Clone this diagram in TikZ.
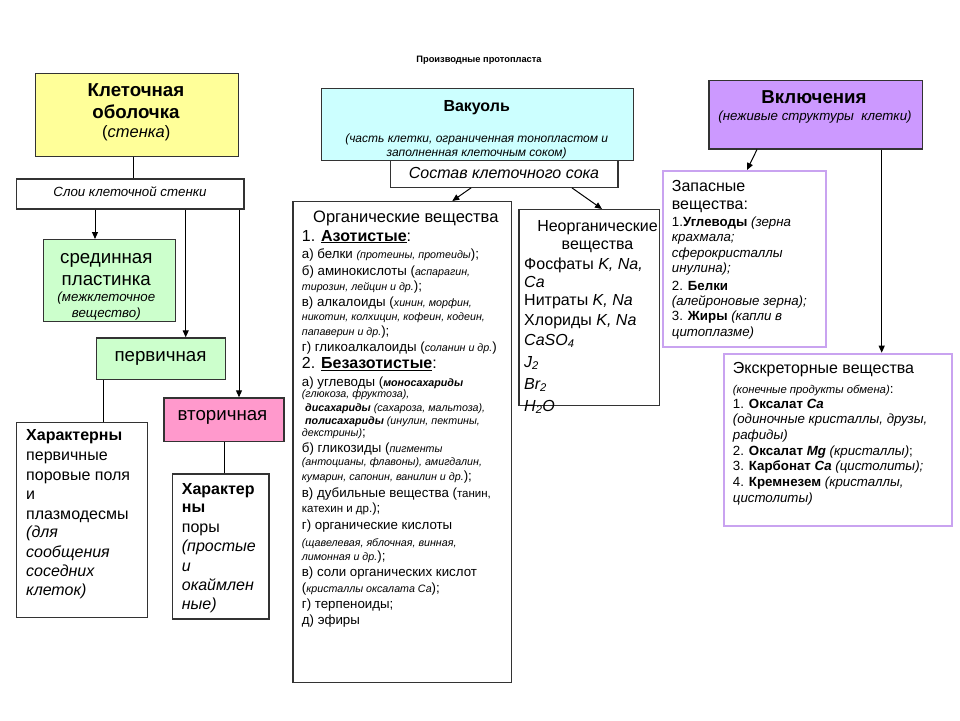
\documentclass[tikz,border=0pt]{standalone}
\usepackage{fontspec}
\setmainfont{Liberation Sans}
\usetikzlibrary{arrows.meta}
\definecolor{yel}{HTML}{FFFF99}
\definecolor{grn}{HTML}{CCFFCC}
\definecolor{pnk}{HTML}{FF99CC}
\definecolor{cya}{HTML}{CCFFFF}
\definecolor{pur}{HTML}{CC99FF}
\definecolor{purline}{HTML}{C9A3F0}
\definecolor{linegray}{HTML}{333333}
\newcommand\fs[1]{\fontsize{#1}{#1}\selectfont}
\newcommand\smi[1]{{\fontsize{10.7}{11}\selectfont\itshape #1}}
\newcommand\sm[1]{{\fontsize{11.5}{12}\selectfont #1}}
\newcommand\tl[4]{\node[tx] (#1) at (#2,#3) {#4};}
\newcommand\tc[4]{\node[txc] (#1) at (#2,#3) {#4};}
\begin{document}
\begin{tikzpicture}[x=1pt,y=-1pt,
  box/.style={draw=linegray, line width=1.2pt, inner sep=0, anchor=north west},
  pbox/.style={draw=purline, line width=2pt, fill=white, inner sep=0, anchor=north west},
  tx/.style={inner sep=0, anchor=base west, font=\fs{13.3}},
  txc/.style={inner sep=0, anchor=base, font=\fs{16}},
  ln/.style={draw=black, line width=1pt},
  arr/.style={ln, -{Triangle[length=7pt,width=6pt]}}]
\useasboundingbox[fill=white] (0,0) rectangle (960,720);

% title
\tc{title}{479}{62.7}{\fs{9.3}\bfseries Производные протопласта}

% ---------- left column ----------
\node[box, fill=yel, minimum width=202.7pt, minimum height=83pt] (obol) at (35,72.7) {};
\tc{obolA}{136}{96}{\fs{18.7}\bfseries Клеточная}
\tc{obolB}{136}{118.3}{\fs{18.7}\bfseries оболочка}
\tc{obolC}{136.3}{137.7}{\fs{16.5}(\textit{стенка})}

\node[box, fill=white, minimum width=227.6pt, minimum height=30pt] (sloi) at (15.7,178.3) {};
\tc{sloiT}{130}{196.7}{\fs{13.3}\itshape Слои клеточной стенки}

\node[box, fill=grn, minimum width=132.3pt, minimum height=81.7pt] (sred) at (42.7,239) {};
\tc{sredA}{106.3}{263.3}{\fs{18.7}срединная}
\tc{sredB}{106.3}{285}{\fs{18.7}пластинка}
\tc{sredC}{106.3}{301.7}{\fs{13.3}\itshape (межклеточное}
\tc{sredD}{106.3}{317.3}{\fs{13.3}\itshape вещество)}

\node[box, fill=grn, minimum width=129.3pt, minimum height=41.7pt] (perv) at (95.7,337.3) {};
\tc{pervT}{160.5}{361.7}{\fs{18.7}первичная}

\node[box, fill=pnk, minimum width=120pt, minimum height=43.4pt] (vtor) at (163.3,397.3) {};
\tc{vtorT}{222.5}{420.7}{\fs{18.7}вторичная}

\node[box, fill=white, minimum width=130.7pt, minimum height=195pt] (har1) at (16,421.7) {};
\tl{hA1}{26}{440.7}{\fs{16}\bfseries Характерны}
\tl{hA2}{26}{460.7}{\fs{16}первичные}
\tl{hA3}{26}{480}{\fs{16}поровые поля}
\tl{hA4}{26}{499.3}{\fs{16}и}
\tl{hA5}{26}{519}{\fs{16}плазмодесмы}
\tl{hA6}{26}{537.7}{\fs{16}\itshape (для}
\tl{hA7}{26}{557.3}{\fs{16}\itshape сообщения}
\tl{hA8}{26}{576.7}{\fs{16}\itshape соседних}
\tl{hA9}{26}{595.7}{\fs{16}\itshape клеток)}

\node[box, fill=white, minimum width=96.6pt, minimum height=145pt] (har2) at (171.7,473.3) {};
\tl{hB1}{181.7}{494}{\fs{16}\bfseries Характер}
\tl{hB2}{181.7}{512.7}{\fs{16}\bfseries ны}
\tl{hB3}{181.7}{532.7}{\fs{16}поры}
\tl{hB4}{181.7}{551.7}{\fs{16}\itshape (простые}
\tl{hB5}{181.7}{571.7}{\fs{16}\itshape и}
\tl{hB6}{181.7}{590.7}{\fs{16}\itshape окаймлен}
\tl{hB7}{181.7}{609.3}{\fs{16}\itshape ные)}

% left connectors
\coordinate (c0) at ([xshift=117.6pt]sloi.north west);
\draw[ln] (c0 |- obol.south) -- (c0);
\coordinate (c1) at ([xshift=52.3pt]sred.north west);
\draw[arr] (c1 |- sloi.south) -- (c1);
\coordinate (c2) at ([xshift=90pt]perv.north west);
\draw[arr] (c2 |- sloi.south) -- (c2);
\coordinate (c3) at ([xshift=75.7pt]vtor.north west);
\draw[arr] (c3 |- sloi.south) -- (c3);
\coordinate (c4) at ([xshift=87.3pt]har1.north west);
\draw[ln] (c4 |- perv.south) -- (c4);
\coordinate (c5) at ([xshift=52.3pt]har2.north west);
\draw[ln] (c5 |- vtor.south) -- (c5);

% ---------- middle column ----------
\node[box, fill=cya, minimum width=312.3pt, minimum height=72.3pt] (vak) at (320.7,87.7) {};
\tc{vakA}{476.7}{111.7}{\fs{16}\bfseries Вакуоль}
\tc{vakB}{476.7}{142.7}{\fs{12}\itshape (часть клетки, ограниченная тонопластом и}
\tc{vakC}{476.7}{156}{\fs{12}\itshape заполненная клеточным соком)}

\node[box, fill=white, minimum width=227.3pt, minimum height=26.7pt] (sost) at (390,160) {};
\tc{sostT}{504}{178.3}{\fs{16}\itshape Состав клеточного сока}

\node[box, fill=white, minimum width=218.7pt, minimum height=480.7pt] (org) at (292.3,201) {};
\tl{o1}{313}{222}{\fs{16.5}Органические вещества}
\tl{o2}{301.7}{241}{\fs{16}1. \textbf{\underline{Азотистые}}:}
\tl{o3}{301.7}{258.3}{а) белки \smi{(протеины, протеиды});}
\tl{o4}{301.7}{275}{б) аминокислоты (\smi{аспарагин,}}
\tl{o5}{301.7}{290}{\smi{тирозин, лейцин и др.});}
\tl{o6}{301.7}{306.7}{в) алкалоиды (\smi{хинин, морфин,}}
\tl{o7}{301.7}{320}{\smi{никотин, колхицин, кофеин, кодеин,}}
\tl{o8}{301.7}{335}{\smi{папаверин и др.});}
\tl{o9}{301.7}{351}{г) гликоалкалоиды (\smi{соланин и др.})}
\tl{o10}{301.7}{368.3}{\fs{16}2. \textbf{\underline{Безазотистые}}:}
\tl{o11}{301.7}{386}{а) углеводы (\smi{\bfseries моносахариды}}
\tl{o12}{301.7}{397.3}{\smi{(глюкоза, фруктоза),}}
\tl{o13}{305}{411.7}{\smi{\bfseries дисахариды\mdseries{} (сахароза, мальтоза),}}
\tl{o14}{305}{424}{\smi{\bfseries полисахариды\mdseries{} (инулин, пектины,}}
\tl{o15}{301.7}{436}{\smi{декстрины)};}
\tl{o16}{301.7}{452.7}{б) гликозиды (\smi{пигменты}}
\tl{o17}{301.7}{465.7}{\smi{(антоцианы, флавоны), амигдалин,}}
\tl{o18}{301.7}{480}{\smi{кумарин, сапонин, ванилин и др.});}
\tl{o19}{301.7}{497.3}{в) дубильные вещества (\sm{танин,}}
\tl{o20}{301.7}{512.7}{\sm{катехин и др.});}
\tl{o21}{301.7}{529}{г) органические кислоты}
\tl{o22}{301.7}{546}{\smi{(щавелевая, яблочная, винная,}}
\tl{o23}{301.7}{560}{\smi{лимонная и др.});}
\tl{o24}{301.7}{576.7}{в) соли органических кислот}
\tl{o25}{301.7}{592.7}{(\smi{кристаллы оксалата Са});}
\tl{o26}{301.7}{608.3}{г) терпеноиды;}
\tl{o27}{301.7}{624}{д) эфиры}

\node[box, fill=white, minimum width=140.7pt, minimum height=196pt] (neorg) at (518.3,209) {};
\tc{n1}{597.5}{231}{Неорганические}
\tc{n2}{597.5}{249}{вещества}
\tl{n3}{524}{269.5}{\fs{16}Фосфаты \textit{K, Na,}}
\tl{n4}{524}{287.5}{\fs{16}\itshape Ca}
\tl{n5}{524}{305}{\fs{16}Нитраты \textit{K, Na}}
\tl{n6}{524}{325}{\fs{16}Хлориды \textit{K, Na}}
\tl{n7}{524}{345}{\fs{16}\itshape CaSO\textsubscript{4}}
\tl{n8}{524}{367}{\fs{16}\itshape J\textsubscript{2}}
\tl{n9}{524}{389}{\fs{16}\itshape Br\textsubscript{2}}
\tl{n10}{524}{411}{\fs{16}\itshape H\textsubscript{2}O}

\draw[arr] ([xshift=81pt]sost.south west) -- ([xshift=160pt]org.north west);
\draw[arr] ([xshift=182pt]sost.south west) -- ([xshift=83.7pt]neorg.north west);

% ---------- right column ----------
\node[box, fill=pur, minimum width=213.4pt, minimum height=68.3pt] (vkl) at (708.3,80) {};
\tc{vklA}{814}{103.3}{\fs{18.7}\bfseries Включения}
\tc{vklB}{815}{120}{\fs{13.3}\itshape (неживые структуры\ \ клетки)}

\node[pbox, minimum width=163.3pt, minimum height=176pt] (zap) at (661.7,170) {};
\tl{z1}{671.7}{191.7}{\fs{16}Запасные}
\tl{z2}{671.7}{209.3}{\fs{16}вещества:}
\tl{z3}{671.7}{226.7}{1.\textbf{Углеводы} \textit{(зерна}}
\tl{z4}{671.7}{241.7}{\itshape крахмала;}
\tl{z5}{671.7}{257.3}{\itshape сферокристаллы}
\tl{z6}{671.7}{272.3}{\itshape инулина);}
\tl{z7}{671.7}{290}{2. \textbf{Белки}}
\tl{z8}{671.7}{305}{\itshape (алейроновые зерна);}
\tl{z9}{671.7}{320.7}{3. \textbf{Жиры} \textit{(капли в}}
\tl{z10}{671.7}{336.7}{\itshape цитоплазме)}

\node[pbox, minimum width=227.4pt, minimum height=172.3pt] (eks) at (723.3,352.7) {};
\tl{e1}{732.7}{373.3}{\fs{16}Экскреторные вещества}
\tl{e2}{732.7}{393.3}{{\fontsize{11.3}{12}\selectfont\itshape (конечные продукты обмена)}:}
\tl{e3}{732.7}{408.3}{1. \textbf{Оксалат \textit{Ca}}}
\tl{e4}{732.7}{423.3}{\itshape (одиночные кристаллы, друзы,}
\tl{e5}{732.7}{439.3}{\itshape рафиды)}
\tl{e6}{732.7}{455}{2. \textbf{Оксалат \textit{Mg}} \textit{(кристаллы)};}
\tl{e7}{732.7}{470.7}{3. \textbf{Карбонат \textit{Ca}} \textit{(цистолиты);}}
\tl{e8}{732.7}{486.7}{4. \textbf{Кремнезем} \textit{(кристаллы,}}
\tl{e9}{732.7}{502.3}{\itshape цистолиты)}

\draw[arr] ([xshift=48.7pt]vkl.south west) -- ([xshift=85.3pt]zap.north west);
\coordinate (c6) at ([xshift=158.4pt]eks.north west);
\draw[arr] (c6 |- vkl.south) -- (c6);
\end{tikzpicture}
\end{document}
